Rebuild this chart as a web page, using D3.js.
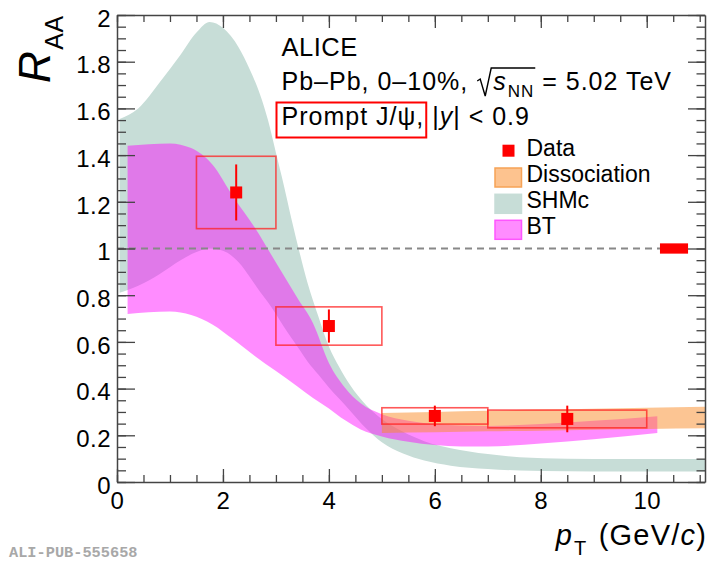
<!DOCTYPE html>
<html><head><meta charset="utf-8">
<script src="https://cdn.jsdelivr.net/npm/d3@7"></script>
<style>body{margin:0;background:#fff;overflow:hidden} text{white-space:pre}</style>
</head><body>
<svg id="c" width="710" height="563"></svg>
<script>
// ---------- data ----------
const xTickValues = [0, 2, 4, 6, 8, 10];
const xTickLabels = ["0", "2", "4", "6", "8", "10"];
const yTickValues = [0, 0.2, 0.4, 0.6, 0.8, 1, 1.2, 1.4, 1.6, 1.8, 2];
const yTickLabels = ["0", "0.2", "0.4", "0.6", "0.8", "1", "1.2", "1.4", "1.6", "1.8", "2"];

// Data points
const dataPt     = [2.25, 4, 6, 8.5];
const dataRaa    = [1.24, 0.668, 0.283, 0.27];
const dataStat   = [0.12, 0.071, 0.044, 0.057];
const dataSys    = [0.155, 0.082, 0.035, 0.038];
const dataBinLo  = [1.5, 3, 5, 7];
const dataBinHi  = [3, 5, 7, 10];
const globalUnc  = 0.022;
const globalBoxPt = [10.25, 10.78];

// SHMc band
const shmcPt = [0.05,0.4,0.8,1.2,1.5,1.75,2.0,2.3,2.5,2.7,2.85,3.0,3.15,3.3,3.45,3.6,3.8,4.0,4.2,4.4,4.7,5.0,5.4,5.8,6.3,7.0,7.6,8.5,9.5,11.1];
const shmcHi = [1.555,1.60,1.71,1.83,1.925,1.97,1.945,1.86,1.77,1.66,1.55,1.41,1.27,1.12,0.98,0.85,0.71,0.58,0.49,0.415,0.33,0.27,0.215,0.175,0.145,0.12,0.106,0.1,0.098,0.098];
const shmcLo = [0.81,0.84,0.89,0.95,0.985,1.0,0.99,0.94,0.88,0.815,0.77,0.72,0.665,0.615,0.565,0.515,0.46,0.405,0.355,0.305,0.23,0.17,0.122,0.092,0.07,0.056,0.049,0.046,0.045,0.045];

// BT band
const btPt = [0.2,0.6,1.0,1.4,1.8,2.2,2.6,3.0,3.4,3.7,4.0,4.3,4.6,5.0,5.5,6.0,6.5,7.0,8.0,9.0,10.2];
const btHi = [1.44,1.447,1.45,1.43,1.36,1.22,1.09,0.94,0.79,0.68,0.51,0.405,0.337,0.29,0.262,0.248,0.242,0.24,0.248,0.262,0.282];
const btLo = [0.72,0.727,0.73,0.715,0.675,0.61,0.54,0.475,0.41,0.36,0.315,0.265,0.225,0.195,0.172,0.158,0.152,0.152,0.165,0.183,0.21];

// Dissociation band
const disPt = [5,6,7,8,9,10,11.1];
const disHi = [0.295,0.30,0.305,0.31,0.314,0.318,0.322];
const disLo = [0.21,0.213,0.217,0.22,0.224,0.227,0.23];

const legendLabels = ["Data", "Dissociation", "SHMc", "BT"];

// ---------- setup ----------
const FONT = "'Liberation Sans', Arial, Helvetica, sans-serif";
const svg = d3.select("#c");
const L = 117, R = 705, T = 15, B = 482;
const x = d3.scaleLinear().domain([0, 11.1]).range([L, R]);
const y = d3.scaleLinear().domain([0, 2]).range([B, T]);

svg.append("defs").append("clipPath").attr("id", "clip")
  .append("rect").attr("x", L).attr("y", T).attr("width", R - L).attr("height", B - T);
const plot = svg.append("g").attr("clip-path", "url(#clip)");

function band(pts, hi, lo) {
  const rows = pts.map((p, i) => ({p, hi: hi[i], lo: lo[i]}));
  return d3.area().x(d => x(d.p)).y0(d => y(d.lo)).y1(d => y(d.hi)).curve(d3.curveMonotoneX)(rows);
}

plot.append("path").attr("d", band(shmcPt, shmcHi, shmcLo)).attr("fill", "#c7ddd7");
plot.append("path").attr("d", band(btPt, btHi, btLo)).attr("fill", "rgba(255,0,255,0.45)");
plot.append("path").attr("d", band(disPt, disHi, disLo)).attr("fill", "rgba(250,140,40,0.5)");

// dashed line at 1
plot.append("line").attr("x1", x(0)).attr("x2", x(globalBoxPt[0])).attr("y1", y(1)).attr("y2", y(1))
  .attr("stroke", "#888").attr("stroke-width", 2).attr("stroke-dasharray", "7,5");
// global uncertainty box
plot.append("rect").attr("x", x(globalBoxPt[0])).attr("width", x(globalBoxPt[1]) - x(globalBoxPt[0]))
  .attr("y", y(1 + globalUnc)).attr("height", y(1 - globalUnc) - y(1 + globalUnc)).attr("fill", "#ff0000");

// data
const pts = dataPt.map((p, i) => ({p, r: dataRaa[i], st: dataStat[i], sy: dataSys[i], lo: dataBinLo[i], hi: dataBinHi[i]}));
const dg = svg.append("g");
dg.selectAll(".sys").data(pts).join("rect")
  .attr("x", d => x(d.lo)).attr("width", d => x(d.hi) - x(d.lo))
  .attr("y", d => y(d.r + d.sy)).attr("height", d => y(d.r - d.sy) - y(d.r + d.sy))
  .attr("fill", "none").attr("stroke", "#ff2020").attr("stroke-opacity", 0.75).attr("stroke-width", 1.6);
dg.selectAll(".err").data(pts).join("line")
  .attr("x1", d => x(d.p)).attr("x2", d => x(d.p))
  .attr("y1", d => y(d.r + d.st)).attr("y2", d => y(d.r - d.st))
  .attr("stroke", "#ff0000").attr("stroke-width", 2);
dg.selectAll(".mk").data(pts).join("rect")
  .attr("x", d => x(d.p) - 6).attr("y", d => y(d.r) - 6).attr("width", 12).attr("height", 12)
  .attr("fill", "#ff0000");

// ---------- axes ----------
const AX = "#444";
function styleAxis(g, keepDomain) {
  g.selectAll("line").attr("stroke", AX).attr("stroke-width", 1.3);
  g.select(".domain").attr("stroke", AX).attr("stroke-width", 1.5);
  if (!keepDomain) g.select(".domain").remove();
  g.selectAll("text").style("font-family", FONT).style("font-size", "24px").style("letter-spacing", "0.5px").attr("fill", "#000");
}
const xMinor = d3.range(0, 11.01, 0.5);
const yMinor = d3.range(0, 2.001, 0.05);

// bottom
let g = svg.append("g").attr("transform", `translate(0,${B})`)
  .call(d3.axisBottom(x).tickValues(xMinor).tickSize(-7).tickFormat("").tickSizeOuter(0));
styleAxis(g, false);
g = svg.append("g").attr("transform", `translate(0,${B})`)
  .call(d3.axisBottom(x).tickValues(xTickValues).tickSize(-13).tickPadding(10).tickSizeOuter(0)
    .tickFormat((d, i) => xTickLabels[i]));
styleAxis(g, true);
g.selectAll("text").attr("y", 26.5).attr("dy", null);
// top
g = svg.append("g").attr("transform", `translate(0,${T})`)
  .call(d3.axisTop(x).tickValues(xMinor).tickSize(-7).tickFormat("").tickSizeOuter(0));
styleAxis(g, false);
g = svg.append("g").attr("transform", `translate(0,${T})`)
  .call(d3.axisTop(x).tickValues(xTickValues).tickSize(-13).tickFormat("").tickSizeOuter(0));
styleAxis(g, true);
// left
g = svg.append("g").attr("transform", `translate(${L},0)`)
  .call(d3.axisLeft(y).tickValues(yMinor).tickSize(-9).tickFormat("").tickSizeOuter(0));
styleAxis(g, false);
g = svg.append("g").attr("transform", `translate(${L},0)`)
  .call(d3.axisLeft(y).tickValues(yTickValues).tickSize(-18).tickPadding(6).tickSizeOuter(0)
    .tickFormat((d, i) => yTickLabels[i]));
styleAxis(g, true);
g.selectAll("text").attr("dy", "0.47em");
// right
g = svg.append("g").attr("transform", `translate(${R},0)`)
  .call(d3.axisRight(y).tickValues(yMinor).tickSize(-8.5).tickFormat("").tickSizeOuter(0));
styleAxis(g, false);
g = svg.append("g").attr("transform", `translate(${R},0)`)
  .call(d3.axisRight(y).tickValues(yTickValues).tickSize(-17).tickFormat("").tickSizeOuter(0));
styleAxis(g, true);

// ---------- text helper ----------
function rich(parent, x0, y0, segs, base, ls) {
  let cx = x0; const out = [];
  segs.forEach(s => {
    const t = parent.append("text").attr("x", cx).attr("y", y0 + (s.dy || 0))
      .attr("xml:space", "preserve").style("white-space", "pre")
      .style("letter-spacing", (ls || 0) + "px")
      .style("font-family", FONT).style("font-size", (s.size || base) + "px")
      .style("font-style", s.italic ? "italic" : "normal").attr("fill", s.fill || "#000").text(s.t);
    const w = t.node().getComputedTextLength();
    out.push({x0: cx, x1: cx + w});
    cx += w + (s.gap || 0);
  });
  return out;
}

// y title
const yt = svg.append("g").attr("transform", "translate(50,83) rotate(-90)");
rich(yt, 0, 0, [{t: "R", italic: true, size: 44, gap: 1}, {t: "AA", size: 25, dy: 13}], 44, 0.5);

// x title
const xt = svg.append("g");
const xs = rich(xt, 0, 0, [
  {t: "p", italic: true, gap: 1}, {t: "T", size: 20, dy: 10, gap: 2}, {t: " (GeV/"}, {t: "c", italic: true}, {t: ")"}
], 29, 1.2);
xt.attr("transform", `translate(${707 - xs[xs.length - 1].x1},545)`);

// header
const hx = 281.5;
rich(svg, hx, 56, [{t: "ALICE"}], 25.5, 0.5);
const l2 = svg.append("g");
const s1 = rich(l2, hx, 90, [{t: "Pb\u2013Pb, 0\u201310%, "}], 25, 1);
const sqx = s1[0].x1 + 1;
const s2 = rich(l2, sqx + 16, 90, [{t: "s", italic: true, gap: 1}, {t: "NN", size: 17, dy: 7}, {t: " = 5.02 TeV"}], 25, 1);
l2.append("path")
  .attr("d", `M${sqx},${90 - 9} L${sqx + 3},${90 - 11} L${sqx + 8},${90 + 6} L${sqx + 14},${90 - 22} L${s2[1].x1 + 1},${90 - 22}`)
  .attr("fill", "none").attr("stroke", "#000").attr("stroke-width", 1.4);
const l3 = rich(svg, hx, 125, [{t: "Prompt J/\u03c8,"}, {t: " |"}, {t: "y", italic: true}, {t: "| < 0.9"}], 25, 1);
svg.append("rect").attr("x", hx - 5).attr("y", 125 - 22.5).attr("width", l3[0].x1 - hx + 7).attr("height", 35)
  .attr("fill", "none").attr("stroke", "#ff0000").attr("stroke-width", 2);

// legend
const lgX = 495, lgTx = 526.5;
const lgBase = [156, 182, 208.3, 234.3];
svg.append("rect").attr("x", lgX + 7.5).attr("y", 150.7 - 6).attr("width", 12).attr("height", 12).attr("fill", "#ff0000");
const swatchFill = [null, "#fdc38f", "#c7ddd7", "#ff8cff"];
const swatchStroke = [null, "#f6a356", "#c7ddd7", "#ff55ff"];
legendLabels.forEach((lab, i) => {
  if (i > 0) {
    svg.append("rect").attr("x", lgX).attr("y", lgBase[i] - 14).attr("width", 26.5).attr("height", 19)
      .attr("fill", swatchFill[i]).attr("stroke", swatchStroke[i]).attr("stroke-width", 1.5);
  }
  svg.append("text").attr("x", lgTx).attr("y", lgBase[i]).style("font-family", FONT).style("font-size", "23px").text(lab);
});

// watermark
svg.append("text").attr("x", 9).attr("y", 557).style("font-family", "'Liberation Mono', 'DejaVu Sans Mono', monospace")
  .style("font-weight", "bold").style("font-size", "15.3px").attr("fill", "#a8a8a8").text("ALI-PUB-555658");
</script>
</body></html>
